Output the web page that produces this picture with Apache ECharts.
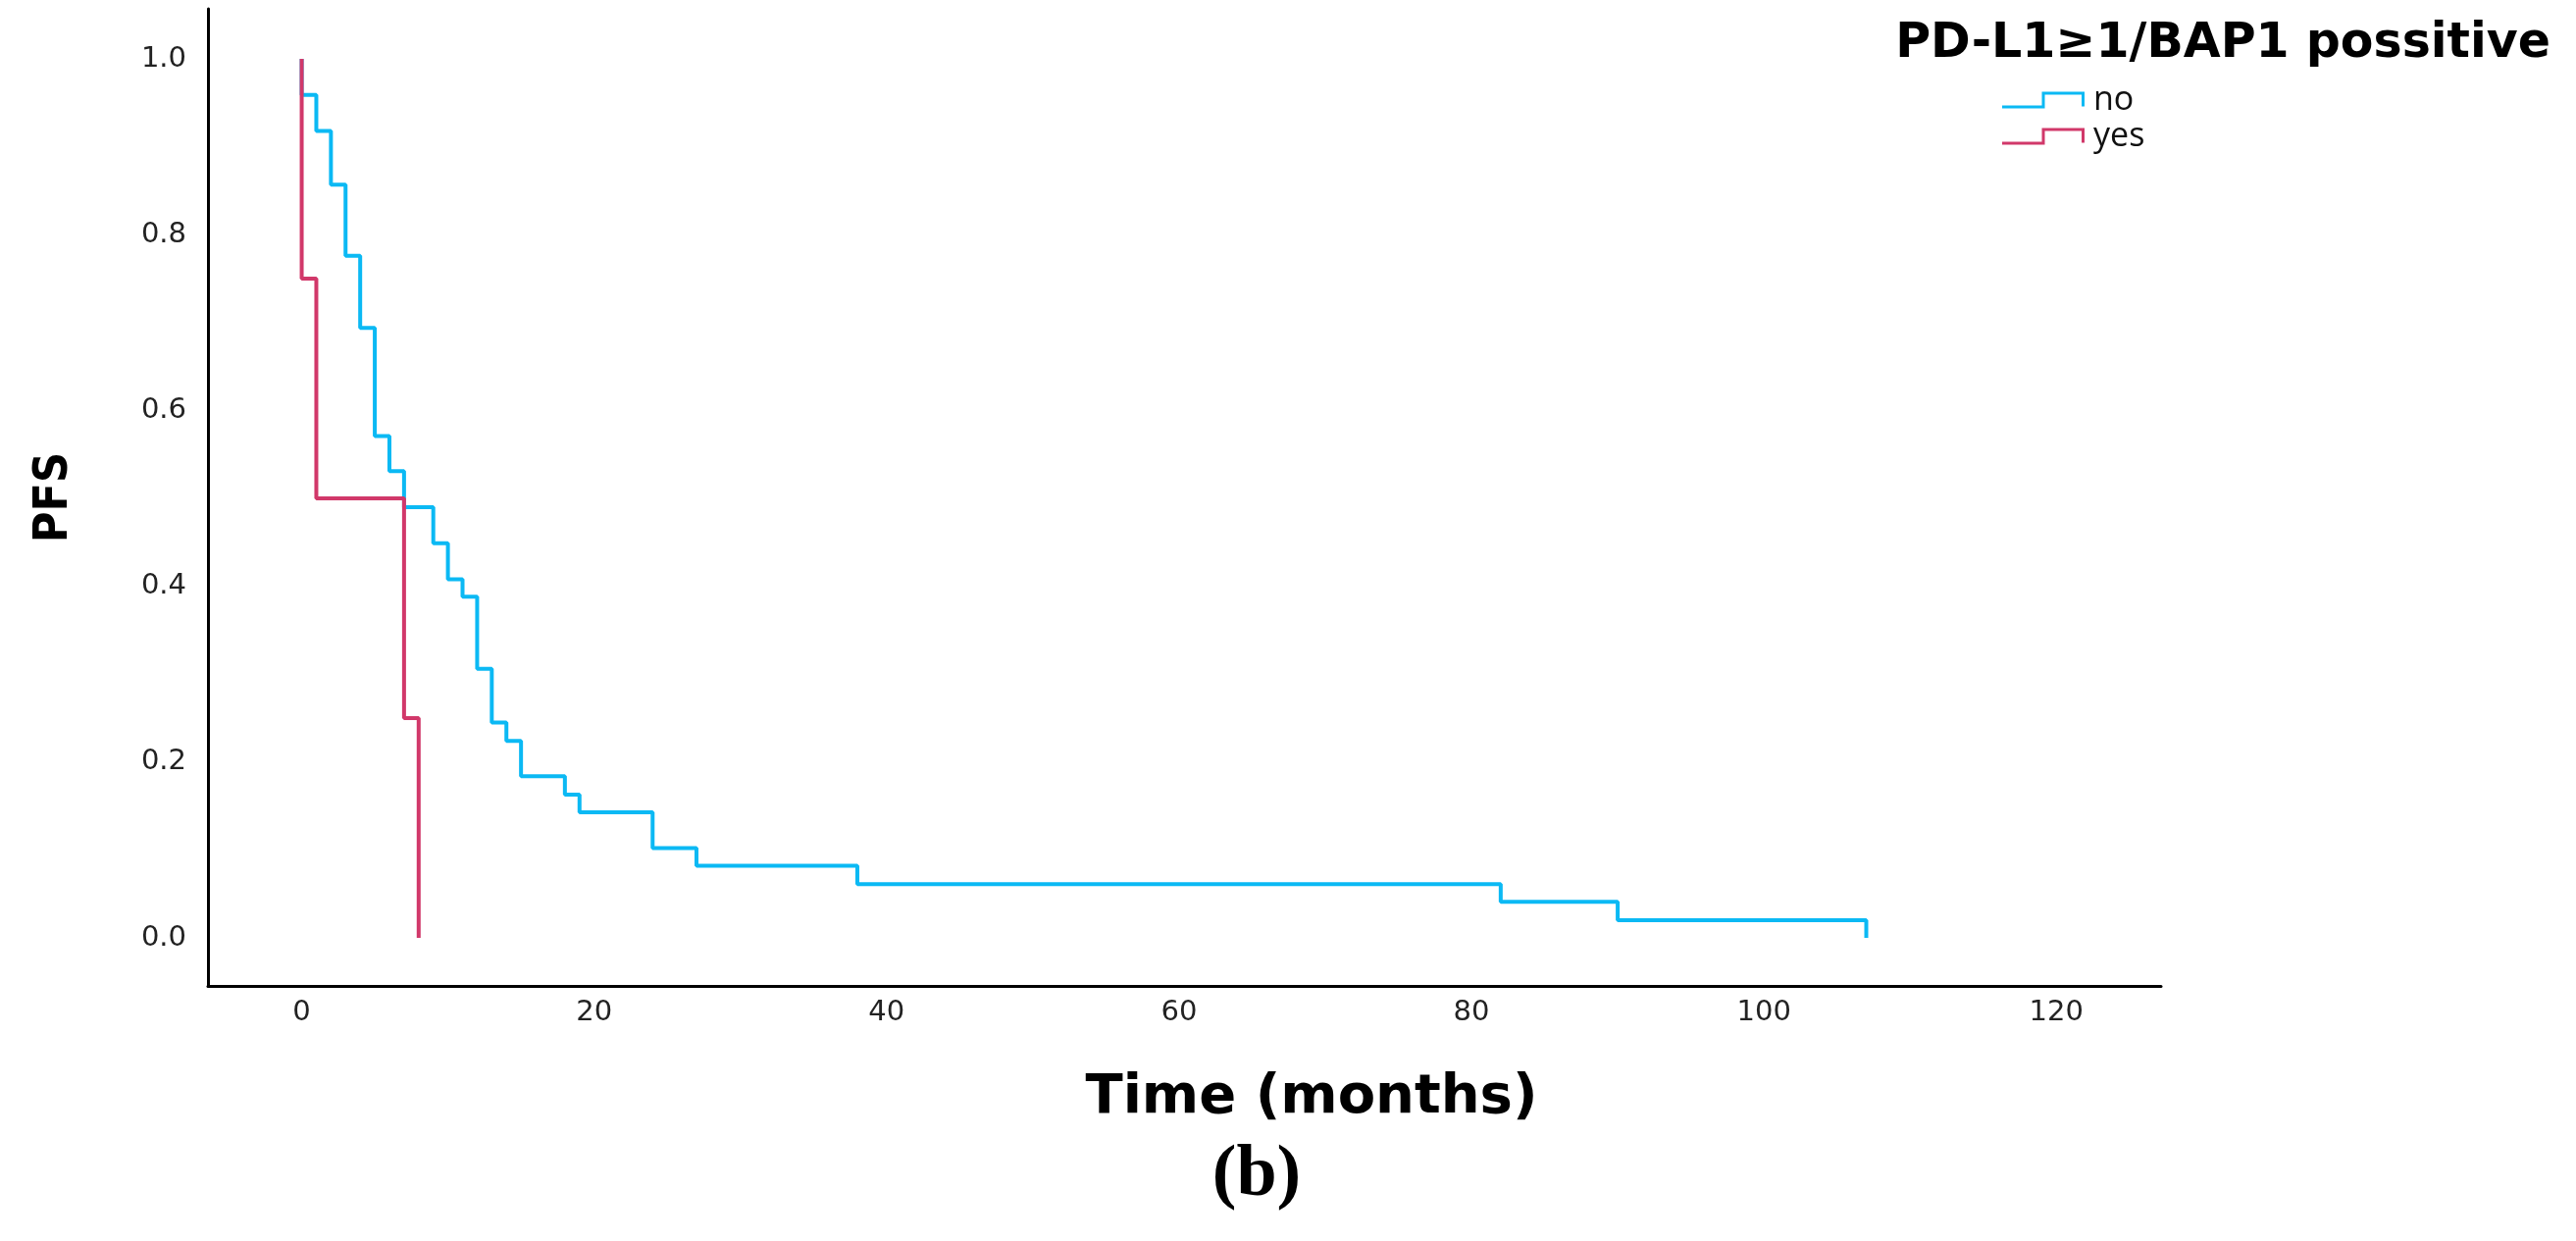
<!DOCTYPE html>
<html>
<head>
<meta charset="utf-8">
<script src="https://cdn.jsdelivr.net/npm/echarts@6/dist/echarts.min.js"></script>
<style>
html,body{margin:0;padding:0;background:#fff;}
#chart{width:2626px;height:1265px;}
</style>
</head>
<body>
<div id="chart"></div>
<script>
// Kaplan-Meier PFS data (time in months, survival after event)
const noTimes = [0, 0, 1, 2, 3, 4, 5, 6, 7, 9, 10, 11, 12, 13, 14, 15, 18, 19, 24, 27, 38, 82, 90, 107];
const noSurv  = [1, 0.959, 0.918, 0.857, 0.776, 0.694, 0.571, 0.531, 0.490, 0.449, 0.408, 0.388, 0.306, 0.245, 0.224, 0.184, 0.163, 0.143, 0.102, 0.082, 0.061, 0.041, 0.020, 0];
const yesTimes = [0, 0, 1, 7, 8];
const yesSurv  = [1, 0.75, 0.5, 0.25, 0];
const xTicks = [0, 20, 40, 60, 80, 100, 120];
const yTicks = [0, 0.2, 0.4, 0.6, 0.8, 1.0];
const seriesNames = ['no', 'yes'];
const legendTitle = 'PD-L1\u22651/BAP1 possitive';
const xTitle = 'Time (months)';
const yTitle = 'PFS';
const panelLabel = '(b)';

const pairs = (t, s) => t.map((v, i) => [v, s[i]]);

const stepIcon = 'path://M0,14 L40.5,14 L40.5,0 L84,0 L84,15 L81,15 L81,3 L43.5,3 L43.5,17 L0,17 Z';

const chart = echarts.init(document.getElementById('chart'));
chart.setOption({
  backgroundColor: '#ffffff',
  animation: false,
  grid: { left: 212, right: 423, top: 9, bottom: 260, outerBoundsMode: 'none' },
  xAxis: {
    type: 'value',
    min: -6.41, max: 127.16,
    axisLine: { show: true, onZero: false, lineStyle: { color: '#000', width: 3 } },
    axisTick: { show: false },
    splitLine: { show: false },
    axisLabel: {
      customValues: xTicks,
      color: '#222', fontSize: 29, fontFamily: 'DejaVu Sans', margin: 13
    }
  },
  yAxis: {
    type: 'value',
    min: -0.0547, max: 1.057,
    name: yTitle,
    nameLocation: 'middle',
    nameGap: 132,
    nameTextStyle: { fontSize: 48, fontWeight: 'bold', fontFamily: 'Liberation Sans Narrow, DejaVu Sans Condensed, DejaVu Sans', color: '#000' },
    axisLine: { show: true, onZero: false, lineStyle: { color: '#000', width: 3 } },
    axisTick: { show: false },
    splitLine: { show: false },
    axisLabel: {
      customValues: yTicks,
      formatter: v => v.toFixed(1),
      color: '#222', fontSize: 29, fontFamily: 'DejaVu Sans', margin: 22
    }
  },
  legend: {
    data: seriesNames,
    orient: 'vertical',
    left: 2036, top: 80,
    itemWidth: 84, itemHeight: 17, itemGap: 3,
    icon: stepIcon,
    itemStyle: { borderWidth: 0 },
    textStyle: { fontSize: 34, fontFamily: 'Open Sans', color: '#111', lineHeight: 34, padding: [0, 0, 0, 4] }
  },
  graphic: [
    { type: 'text', x: 2600, y: 45,
      style: { text: legendTitle, font: 'bold 49px "DejaVu Sans"', fill: '#000', textAlign: 'right', textVerticalAlign: 'middle' } },
    { type: 'text', x: 1337, y: 1119,
      style: { text: xTitle, font: 'bold 56px "DejaVu Sans"', fill: '#000', textAlign: 'center', textVerticalAlign: 'middle' } },
    { type: 'text', x: 1281, y: 1199,
      style: { text: panelLabel, font: 'bold 74px "Liberation Serif"', fill: '#000', textAlign: 'center', textVerticalAlign: 'middle' } }
  ],
  series: [
    {
      name: seriesNames[0], type: 'line', step: 'end', symbol: 'none',
      data: pairs(noTimes, noSurv),
      color: '#0bb9f4',
      lineStyle: { width: 4, color: '#0bb9f4' },
      z: 2
    },
    {
      name: seriesNames[1], type: 'line', step: 'end', symbol: 'none',
      data: pairs(yesTimes, yesSurv),
      color: '#d1386a',
      lineStyle: { width: 4, color: '#d1386a' },
      z: 3
    }
  ]
});
</script>
</body>
</html>
